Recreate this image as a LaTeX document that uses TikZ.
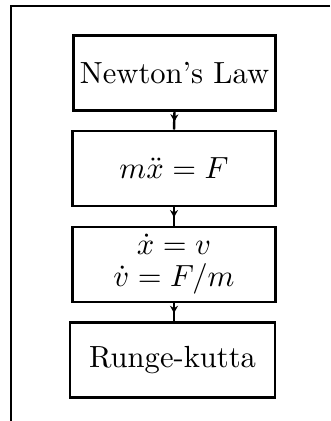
\documentclass[tikz,border=0pt]{standalone}
\usetikzlibrary{arrows.meta,decorations.markings}
\begin{document}
\begin{tikzpicture}[x=0.327pt,y=-0.327pt,
  stagebox/.style={draw,line width=0.9pt,minimum width=66.2pt,minimum height=24.6pt,inner sep=0pt,align=center},
  link/.style={line width=0.8pt,decoration={markings,mark=at position 0.55 with {\arrow{Stealth[length=2.4pt,width=2.6pt]}}},postaction={decorate}},
  frame/.style={line width=0.7pt}]
\useasboundingbox (0,0) rectangle (330,421);
\coordinate (fa) at (330,6);
\coordinate (fb) at (11,6);
\coordinate (fc) at (11,421);
\draw[frame] (fa) -- (fb) -- (fc);
\node[stagebox] (newton) at (174.5,73) {Newton's Law};
\node[stagebox] (ode2) at (174,168.5) {$m\ddot{x}=F$};
\node[stagebox] (ode1) at (174,264.5) {$\dot{x}=v$\\[-1.5pt]$\dot{v}=F/m$};
\node[stagebox,minimum width=67pt] (rk) at (172.5,360) {Runge-kutta};
\draw[link] (newton.south) -- (ode2.north);
\draw[link] (ode2.south) -- (ode1.north);
\draw[link] (ode1.south) -- (rk.north -| ode1.south);
\end{tikzpicture}
\end{document}
